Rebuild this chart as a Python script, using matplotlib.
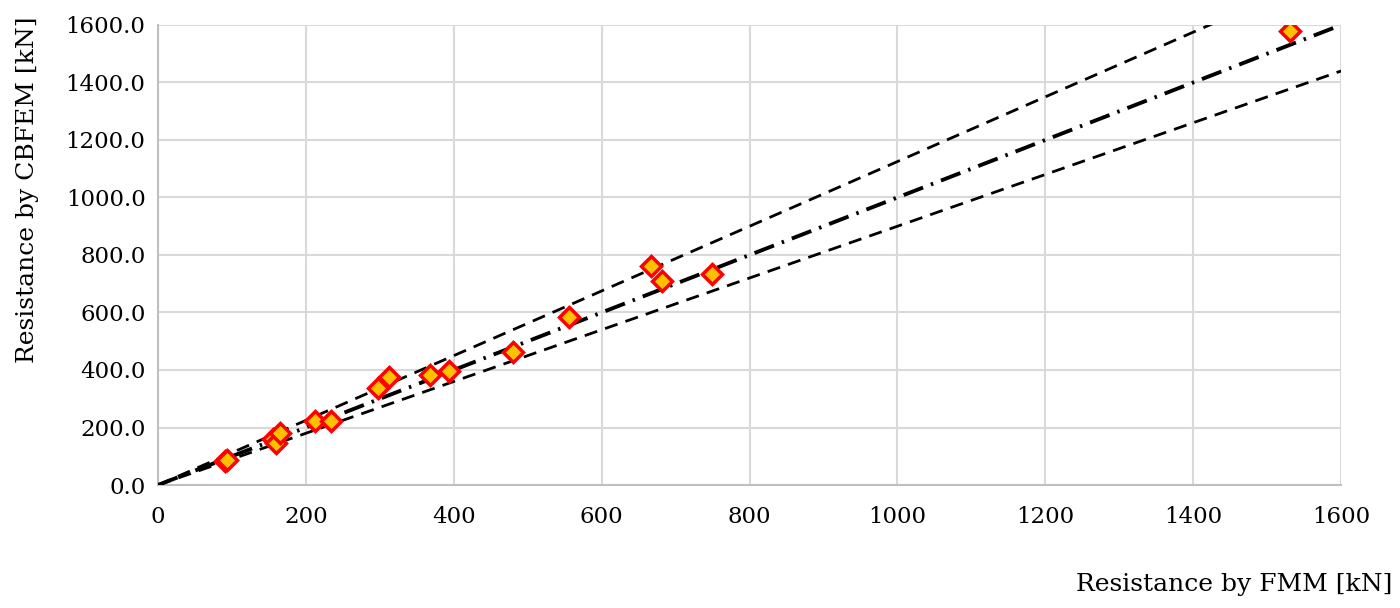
import matplotlib
matplotlib.use("Agg")
import matplotlib.pyplot as plt
from matplotlib.ticker import FormatStrFormatter

# resistance values [kN]
fmm = [90, 93, 155, 160, 165, 212, 234, 298, 312, 368, 393, 480, 556, 667, 681, 749, 1531]
cbfem = [85, 88, 160, 146, 181, 224, 224, 336, 377, 383, 398, 464, 583, 762, 710, 733, 1580]

# reference lines: y = k * x
line_x = [0, 1600]
ratio_equal = 1.0
ratio_upper = 1.125
ratio_lower = 0.9

x_ticks = [0, 200, 400, 600, 800, 1000, 1200, 1400, 1600]
y_ticks = [0, 200, 400, 600, 800, 1000, 1200, 1400, 1600]

plt.rcParams['font.family'] = ['DejaVu Serif']
plt.rcParams['lines.scale_dashes'] = False

fig = plt.figure(figsize=(14, 6.08), dpi=100)
ax = fig.add_axes([0.1129, 0.2023, 0.845, 0.7566])

ax.plot(line_x, [ratio_upper * v for v in line_x], color='black', lw=2.0,
        dashes=(9.5, 6.0), zorder=3)
ax.plot(line_x, [ratio_lower * v for v in line_x], color='black', lw=2.0,
        dashes=(9.5, 6.0), zorder=3)
ax.plot(line_x, [ratio_equal * v for v in line_x], color='black', lw=2.8,
        dashes=(15, 6, 1.8, 6), zorder=3)

ax.plot(fmm, cbfem, linestyle='none', marker='D', ms=10.5, mfc='#FFC000',
        mec='#FF0000', mew=2.5, zorder=4)

ax.set_xlim(0, 1600)
ax.set_ylim(0, 1600)
ax.set_xticks(x_ticks)
ax.set_yticks(y_ticks)
ax.yaxis.set_major_formatter(FormatStrFormatter('%.1f'))
ax.tick_params(length=0, labelsize=16.5)
ax.tick_params(axis='x', pad=15)
ax.tick_params(axis='y', pad=9)

ax.grid(True, color='#d9d9d9', lw=1.5)
ax.set_axisbelow(True)
for side in ['top', 'right']:
    ax.spines[side].set_visible(False)
for side in ['left', 'bottom']:
    ax.spines[side].set_color('#bfbfbf')
    ax.spines[side].set_linewidth(1.5)

fig.text(1392 / 1400, 1 - 585 / 608, 'Resistance by FMM [kN]', ha='right',
         va='center', fontsize=18)
fig.text(28 / 1400, 1 - 190 / 608, 'Resistance by CBFEM [kN]', ha='center',
         va='center', rotation=90, fontsize=18)

fig.savefig('out.png', dpi=100)
